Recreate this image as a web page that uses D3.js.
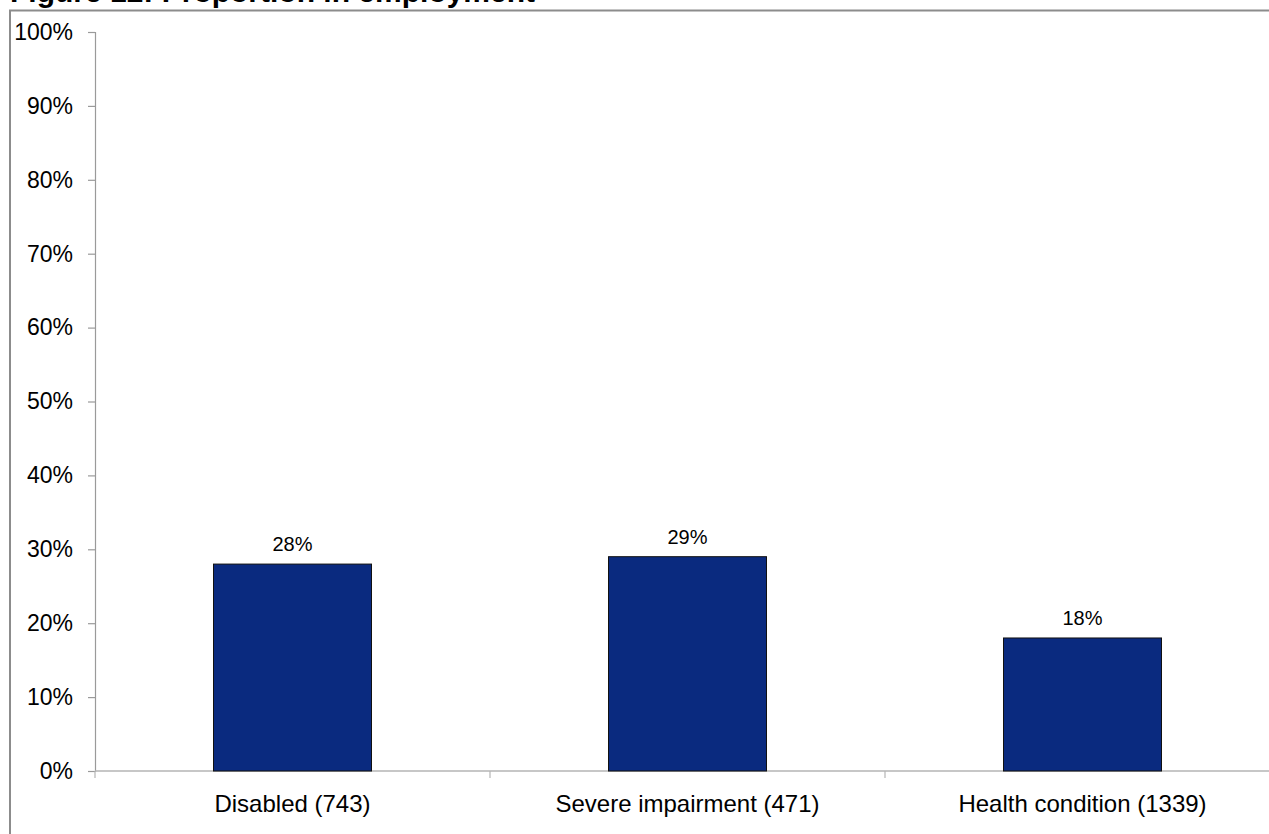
<!DOCTYPE html>
<html>
<head>
<meta charset="utf-8">
<script src="https://cdn.jsdelivr.net/npm/d3@7"></script>
<style>
  html, body { margin: 0; padding: 0; background: #fff; }
  svg { display: block; font-family: Arial, "Liberation Sans", sans-serif; }
</style>
</head>
<body>
<svg id="chart" width="1269" height="834"></svg>
<script>
// Categories with sample sizes, and the share reported for each
const categories = ["Disabled (743)", "Severe impairment (471)", "Health condition (1339)"];
const values = [0.28, 0.29, 0.18];
const yTicks = [0, 0.1, 0.2, 0.3, 0.4, 0.5, 0.6, 0.7, 0.8, 0.9, 1.0];
const title = "Figure 12: Proportion in employment";

(function draw() {
  const svg = d3.select("#chart");
  const W = 1269, H = 834;

  // Plot area
  const plotLeft = 95, plotRight = 1280, plotTop = 32, plotBottom = 771;

  // Title, running above the top of the frame
  svg.append("text")
    .attr("x", 10).attr("y", 2)
    .attr("font-size", 30).attr("font-weight", "bold").attr("fill", "#000")
    .text(title);

  // Outer chart frame
  svg.append("rect")
    .attr("x", 10).attr("y", 10.5)
    .attr("width", W + 20).attr("height", H + 20)
    .attr("fill", "none").attr("stroke", "#8c8c8c").attr("stroke-width", 2);

  const x = d3.scaleBand().domain(categories).range([plotLeft, plotRight]).paddingInner(0).paddingOuter(0);
  const y = d3.scaleLinear().domain([0, 1]).range([plotBottom, plotTop]);

  // Y axis
  const yAxis = svg.append("g").attr("transform", `translate(${plotLeft},0)`)
    .call(d3.axisLeft(y).tickValues(yTicks).tickFormat(d3.format(".0%")).tickSize(7).tickPadding(15));
  yAxis.select(".domain").attr("stroke", "#9a9a9a").attr("stroke-width", 1.2);
  yAxis.selectAll(".tick line").attr("stroke", "#9a9a9a").attr("stroke-width", 1.2);
  yAxis.selectAll(".tick text").attr("font-size", 23).attr("fill", "#000")
    .attr("font-family", "Arial, 'Liberation Sans', sans-serif");

  // X axis: ticks at band boundaries
  const xAxis = svg.append("g").attr("transform", `translate(0,${plotBottom})`);
  xAxis.append("line")
    .attr("x1", plotLeft).attr("x2", plotRight).attr("y1", 0).attr("y2", 0)
    .attr("stroke", "#b5b5b5").attr("stroke-width", 1.5);
  const boundaries = categories.map(c => x(c)).concat([plotRight]);
  xAxis.selectAll("line.tk").data(boundaries).join("line")
    .attr("class", "tk")
    .attr("x1", d => d).attr("x2", d => d).attr("y1", 0).attr("y2", 7)
    .attr("stroke", "#b5b5b5").attr("stroke-width", 1.2);
  xAxis.selectAll("text").data(categories).join("text")
    .attr("x", d => x(d) + x.bandwidth() / 2)
    .attr("y", 41)
    .attr("text-anchor", "middle")
    .attr("font-size", 24).attr("fill", "#000")
    .text(d => d);

  // Bars
  const barW = x.bandwidth() * 0.4;
  const data = categories.map((c, i) => ({ c, v: values[i] }));
  svg.append("g").selectAll("rect").data(data).join("rect")
    .attr("x", d => x(d.c) + (x.bandwidth() - barW) / 2)
    .attr("y", d => y(d.v))
    .attr("width", barW)
    .attr("height", d => y(0) - y(d.v))
    .attr("fill", "#0a2a7f")
    .attr("stroke", "#111").attr("stroke-width", 1);

  // Value labels
  svg.append("g").selectAll("text").data(data).join("text")
    .attr("x", d => x(d.c) + x.bandwidth() / 2)
    .attr("y", d => y(d.v) - 13)
    .attr("text-anchor", "middle")
    .attr("font-size", 20).attr("fill", "#000")
    .text(d => d3.format(".0%")(d.v));
})();
</script>
</body>
</html>
